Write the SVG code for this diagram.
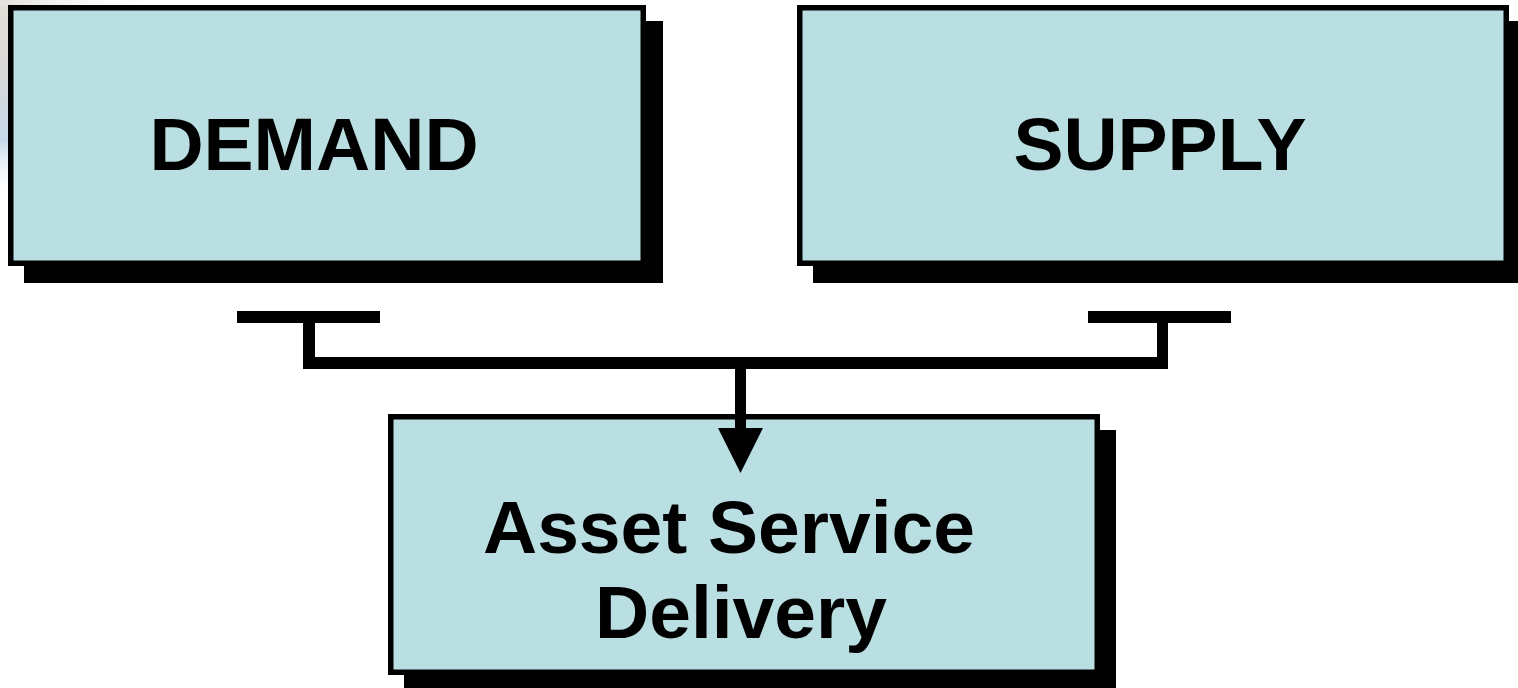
<svg xmlns="http://www.w3.org/2000/svg" width="1518" height="688" viewBox="0 0 1518 688">
  <style>
    .shadow { fill: #000000; }
    .box { fill: #BADFE2; stroke: #000000; stroke-width: 5.5; }
    .label { font-family: "Liberation Sans", Arial, sans-serif; font-weight: bold; font-size: 75px; fill: #000000; text-anchor: middle; }
    .bar { fill: #000000; }
  </style>
  <defs>
    <linearGradient id="edgeTint" x1="0" y1="0" x2="0" y2="1">
      <stop offset="0" stop-color="#e2ddd8"/>
      <stop offset="0.35" stop-color="#d9d8d8"/>
      <stop offset="0.7" stop-color="#c6d9ea"/>
      <stop offset="1" stop-color="#ffffff" stop-opacity="0"/>
    </linearGradient>
    <linearGradient id="topTint" x1="0" y1="0" x2="1" y2="0">
      <stop offset="0" stop-color="#e4e0dc"/>
      <stop offset="1" stop-color="#ffffff" stop-opacity="0"/>
    </linearGradient>
  </defs>

  <rect x="0" y="0" width="1518" height="688" fill="#ffffff"/>
  <!-- faint background tint in the upper-left corner -->
  <rect x="0" y="0" width="9" height="200" fill="url(#edgeTint)"/>
  <rect x="0" y="0" width="160" height="6" fill="url(#topTint)"/>

  <g id="demand">
    <rect class="shadow" x="24" y="21" width="639" height="262"/>
    <rect class="box" x="10.75" y="7.75" width="632.5" height="255.5"/>
    <text class="label" x="314" y="170">DEMAND</text>
  </g>

  <g id="supply">
    <rect class="shadow" x="813" y="21" width="712" height="262"/>
    <rect class="box" x="799.75" y="7.75" width="706.5" height="255.5"/>
    <text class="label" x="1160" y="170">SUPPLY</text>
  </g>

  <g id="asset-service-delivery">
    <rect class="shadow" x="404" y="430" width="712" height="262"/>
    <rect class="box" x="390.75" y="416.75" width="706.5" height="255.5"/>
    <text class="label" x="729" y="553">Asset Service</text>
    <text class="label" x="741" y="638">Delivery</text>
  </g>

  <g id="connectors">
    <!-- left T-junction -->
    <rect class="bar" x="237" y="311" width="143" height="12"/>
    <rect class="bar" x="303" y="323" width="12" height="40"/>
    <!-- right T-junction -->
    <rect class="bar" x="1088" y="311" width="143" height="12"/>
    <rect class="bar" x="1157" y="323" width="11" height="40"/>
    <!-- joining line -->
    <rect class="bar" x="303" y="357" width="865" height="12"/>
    <!-- stem and arrowhead into the lower box -->
    <rect class="bar" x="735" y="368" width="11" height="62"/>
    <polygon class="bar" points="718,428 763,428 740.5,473"/>
  </g>
</svg>
